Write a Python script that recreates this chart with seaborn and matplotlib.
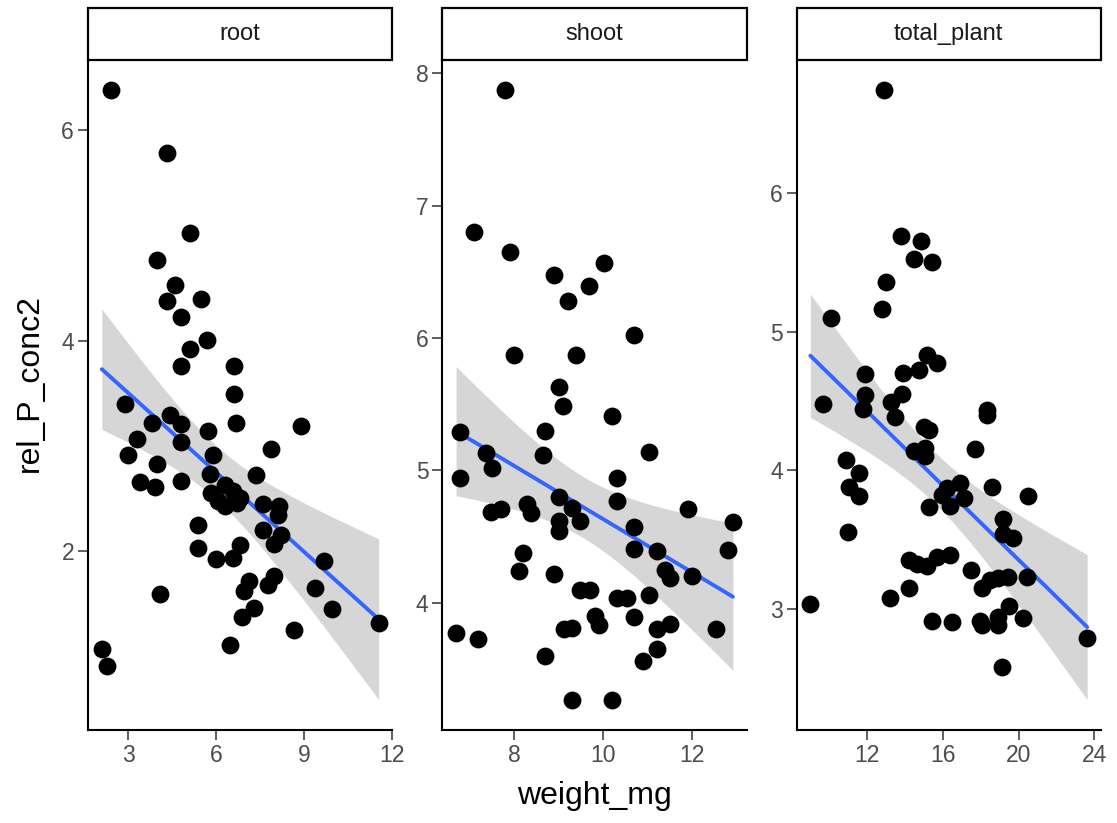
import numpy as np
import pandas as pd
import matplotlib
matplotlib.use("Agg")
import matplotlib.pyplot as plt
from matplotlib.patches import Rectangle
import seaborn as sns

# ---- data -------------------------------------------------------------
tissues = ["root", "shoot", "total_plant"]

root_weight = [2.41, 4.30, 5.09, 3.99, 4.58, 4.30, 5.49, 4.78, 5.69, 5.09, 4.78, 6.60,
               6.60, 2.88, 3.79, 4.41, 4.78, 6.68, 8.88, 5.71, 3.28, 4.78, 2.97, 7.86,
               5.88, 3.96, 5.77, 7.35, 3.39, 3.90, 4.78, 6.28, 5.83, 6.56, 6.79, 6.05,
               6.28, 6.70, 7.58, 8.15, 8.09, 5.37, 7.58, 8.20, 7.98, 5.37, 6.79, 6.00,
               6.56, 9.67, 7.13, 7.98, 6.96, 7.75, 9.37, 4.09, 7.30, 6.87, 9.96, 11.54,
               8.66, 6.47, 2.09, 2.28]
root_conc = [6.38, 5.79, 5.03, 4.77, 4.53, 4.38, 4.40, 4.23, 4.01, 3.92, 3.76, 3.76,
             3.50, 3.40, 3.22, 3.30, 3.21, 3.22, 3.19, 3.14, 3.07, 3.04, 2.92, 2.97,
             2.92, 2.83, 2.74, 2.73, 2.66, 2.61, 2.67, 2.63, 2.56, 2.57, 2.51, 2.48,
             2.43, 2.46, 2.45, 2.43, 2.35, 2.25, 2.20, 2.16, 2.07, 2.03, 2.06, 1.93,
             1.94, 1.91, 1.72, 1.77, 1.62, 1.68, 1.65, 1.60, 1.46, 1.38, 1.45, 1.32,
             1.25, 1.11, 1.07, 0.91]

shoot_weight = [7.80, 7.10, 7.91, 10.01, 8.90, 9.69, 9.21, 10.70, 8.00, 9.40, 9.01, 9.10,
                10.20, 6.79, 8.69, 11.02, 7.37, 8.64, 7.50, 6.79, 10.31, 10.31, 9.01, 9.31,
                8.30, 7.48, 7.71, 8.39, 11.91, 9.01, 9.49, 12.91, 9.01, 10.70, 10.70, 11.20,
                12.80, 8.19, 8.10, 8.90, 11.39, 11.50, 12.00, 9.49, 9.71, 10.31, 10.53, 11.02,
                9.81, 9.90, 10.70, 9.12, 9.31, 11.50, 11.20, 12.52, 6.70, 7.19, 11.20, 8.69,
                10.90, 9.31, 10.20]
shoot_conc = [7.87, 6.80, 6.65, 6.57, 6.48, 6.39, 6.28, 6.02, 5.87, 5.87, 5.63, 5.49,
              5.41, 5.29, 5.30, 5.14, 5.13, 5.12, 5.02, 4.94, 4.94, 4.77, 4.80, 4.72,
              4.75, 4.69, 4.71, 4.68, 4.71, 4.62, 4.62, 4.61, 4.54, 4.57, 4.41, 4.39,
              4.40, 4.38, 4.24, 4.22, 4.25, 4.19, 4.20, 4.10, 4.10, 4.04, 4.04, 4.06,
              3.90, 3.83, 3.89, 3.80, 3.81, 3.84, 3.80, 3.80, 3.77, 3.73, 3.65, 3.60,
              3.56, 3.27, 3.27]

total_weight = [12.90, 13.77, 14.82, 14.47, 15.43, 12.99, 12.81, 10.10, 15.17, 15.70, 11.88,
                13.91, 14.73, 9.67, 11.88, 11.76, 13.86, 13.25, 13.46, 18.32, 18.32, 14.99,
                15.24, 14.47, 15.08, 15.08, 17.71, 10.89, 11.59, 11.06, 11.59, 16.92, 16.22,
                15.96, 17.09, 16.36, 15.26, 18.58, 20.50, 10.98, 19.19, 19.19, 19.71, 14.21,
                14.65, 15.17, 15.70, 16.39, 17.48, 18.06, 18.49, 18.93, 19.45, 20.42, 14.21,
                13.20, 9.00, 19.50, 15.43, 16.48, 17.97, 18.06, 18.93, 18.93, 20.24, 23.62,
                19.11]
total_conc = [6.74, 5.69, 5.65, 5.52, 5.50, 5.36, 5.16, 5.10, 4.83, 4.77, 4.69,
              4.70, 4.72, 4.48, 4.54, 4.44, 4.55, 4.49, 4.38, 4.43, 4.40, 4.31,
              4.29, 4.14, 4.16, 4.10, 4.15, 4.07, 3.98, 3.88, 3.81, 3.91, 3.87,
              3.82, 3.80, 3.74, 3.73, 3.88, 3.81, 3.55, 3.65, 3.54, 3.51, 3.35,
              3.32, 3.31, 3.37, 3.39, 3.28, 3.15, 3.21, 3.22, 3.23, 3.23, 3.15,
              3.08, 3.03, 3.02, 2.91, 2.90, 2.91, 2.88, 2.94, 2.88, 2.93, 2.79,
              2.58]

x_ticks = {"root": [3, 6, 9, 12], "shoot": [8, 10, 12], "total_plant": [12, 16, 20, 24]}
y_ticks = {"root": [2, 4, 6], "shoot": [4, 5, 6, 7, 8], "total_plant": [3, 4, 5, 6]}

df = pd.concat([
    pd.DataFrame({"tissue": "root", "weight_mg": root_weight, "rel_P_conc2": root_conc}),
    pd.DataFrame({"tissue": "shoot", "weight_mg": shoot_weight, "rel_P_conc2": shoot_conc}),
    pd.DataFrame({"tissue": "total_plant", "weight_mg": total_weight, "rel_P_conc2": total_conc}),
], ignore_index=True)

# ---- style ------------------------------------------------------------
sns.set_theme(style="ticks")
plt.rcParams["font.family"] = ["Liberation Sans", "DejaVu Sans"]
plt.rcParams["axes.linewidth"] = 1.5

W, H = 11.17, 8.23


def lm_panel(data, **kws):
    """Scatter with an OLS fit line and its 95% confidence band."""
    ax = plt.gca()
    x = data["weight_mg"].to_numpy(float)
    y = data["rel_P_conc2"].to_numpy(float)
    n = len(x)
    slope, intercept = np.polyfit(x, y, 1)
    resid = y - (intercept + slope * x)
    s = np.sqrt(np.sum(resid ** 2) / (n - 2))
    xm = x.mean()
    sxx = np.sum((x - xm) ** 2)
    xs = np.linspace(x.min(), x.max(), 100)
    fit = intercept + slope * xs
    se = s * np.sqrt(1.0 / n + (xs - xm) ** 2 / sxx)
    tq = 2.0
    ax.fill_between(xs, fit - tq * se, fit + tq * se, color="#999999", alpha=0.4,
                    linewidth=0, zorder=1)
    sns.lineplot(x=xs, y=fit, color="#3366FF", linewidth=2.8, ax=ax, zorder=2)
    sns.scatterplot(data=data, x="weight_mg", y="rel_P_conc2", color="black", s=165,
                    linewidth=0, ax=ax, zorder=3)


g = sns.FacetGrid(df, col="tissue", col_order=tissues, sharex=False, sharey=False,
                  height=H, aspect=(W / 3) / H, despine=True)
g.map_dataframe(lm_panel)
g.set_titles("")
g.set_axis_labels("", "")
g.figure.set_size_inches(W, H)

panel_px_w = 304.0
panel_px_h = 670.0
g.figure.subplots_adjust(left=88 / 1117, right=1101 / 1117, bottom=1 - 730 / 823,
                         top=1 - 60 / 823, wspace=49.7 / panel_px_w)

strip_h = 52.0 / panel_px_h
for ax, name in zip(g.axes.flat, tissues):
    ax.margins(0.05)
    ax.autoscale_view()
    xl, yl = ax.get_xlim(), ax.get_ylim()
    ax.set_xticks(x_ticks[name])
    ax.set_yticks(y_ticks[name])
    ax.set_xlim(xl)
    ax.set_ylim(yl)
    ax.tick_params(direction="out", length=7, width=1.1, color="#333333",
                   labelcolor="#4D4D4D", labelsize=16.5, pad=3)
    for sp in ("left", "bottom"):
        ax.spines[sp].set_color("black")
        ax.spines[sp].set_linewidth(1.5)
    ax.add_patch(Rectangle((0, 1), 1, strip_h, transform=ax.transAxes, clip_on=False,
                           facecolor="white", edgecolor="black", linewidth=1.6, zorder=5))
    ax.text(0.5, 1 + strip_h / 2, name, transform=ax.transAxes, ha="center",
            va="center", fontsize=17, color="#1A1A1A", zorder=6)

g.figure.text(594.5 / 1117, 1 - 796 / 823, "weight_mg", ha="center", va="center",
              fontsize=23, color="black")
g.figure.text(30 / 1117, 1 - 383 / 823, "rel_P_conc2", ha="center", va="center",
              rotation=90, fontsize=23, color="black")

g.figure.savefig("out.png", dpi=100, facecolor="white")
